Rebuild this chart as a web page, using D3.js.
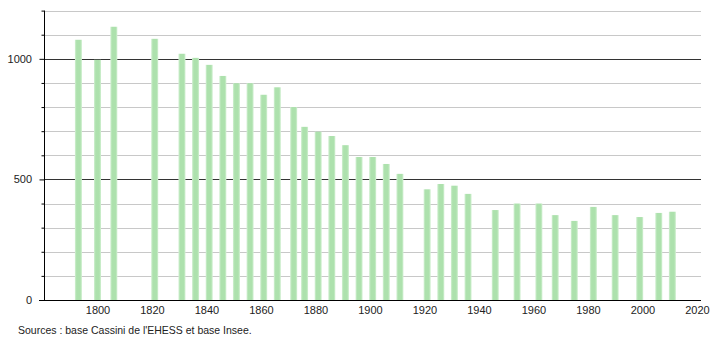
<!DOCTYPE html>
<html>
<head>
<meta charset="utf-8">
<script src="https://cdn.jsdelivr.net/npm/d3@7"></script>
<style>
  body { margin: 0; background: #fff; }
  svg text { font-family: "Liberation Sans", Arial, sans-serif; fill: #222; }
</style>
</head>
<body>
<div id="chart"></div>
<script>
const years = [1793, 1800, 1806, 1821, 1831, 1836, 1841, 1846, 1851, 1856, 1861, 1866,
    1872, 1876, 1881, 1886, 1891, 1896, 1901, 1906, 1911, 1921, 1926, 1931, 1936,
    1946, 1954, 1962, 1968, 1975, 1982, 1990, 1999, 2006, 2011];
const population = [1079, 996, 1133, 1083, 1021, 1004, 975, 929, 899, 899, 851, 882,
    800, 718, 698, 680, 642, 593, 593, 564, 523, 459, 481, 474, 440,
    373, 400, 400, 352, 328, 386, 352, 344, 361, 366];
const xTicks = [1800, 1820, 1840, 1860, 1880, 1900, 1920, 1940, 1960, 1980, 2000, 2020];
const yLabels = [0, 500, 1000];
const gridValues = d3.range(100, 1201, 100);
const sourceText = "Sources : base Cassini de l'EHESS et base Insee.";

function drawBars() {
    const W = 710, H = 340;
    const left = 44, right = 701, top = 10.6, bottom = 300;

    const svg = d3.select("#chart")
        .append("svg")
        .attr("width", W)
        .attr("height", H);

    const defs = svg.append("defs");
    const grad = defs.append("linearGradient")
        .attr("id", "barGrad")
        .attr("x1", "0%").attr("x2", "100%")
        .attr("y1", "0%").attr("y2", "0%");
    grad.append("stop").attr("offset", "0%").attr("stop-color", "#d2f0d2");
    grad.append("stop").attr("offset", "25%").attr("stop-color", "#ade1ad");
    grad.append("stop").attr("offset", "75%").attr("stop-color", "#ade1ad");
    grad.append("stop").attr("offset", "100%").attr("stop-color", "#d2f0d2");

    // 1780 sits just left of the y axis
    const x = d3.scaleLinear().domain([1780, 2021.5]).range([43, right]);
    const y = d3.scaleLinear().domain([0, 1200]).range([bottom, top]);

    // grid lines
    svg.append("g")
        .selectAll("line")
        .data(gridValues)
        .enter()
        .append("line")
        .attr("x1", left)
        .attr("x2", right)
        .attr("y1", d => Math.round(y(d)) + 0.5)
        .attr("y2", d => Math.round(y(d)) + 0.5)
        .attr("stroke", d => d % 500 === 0 ? "#333" : "#c8c8c8")
        .attr("stroke-width", 1);

    // bars
    const bw = 7;
    svg.append("g")
        .selectAll("rect")
        .data(years.map((yr, i) => ({year: yr, value: population[i]})))
        .enter()
        .append("rect")
        .attr("x", d => x(d.year) - bw / 2)
        .attr("y", d => y(d.value))
        .attr("width", bw)
        .attr("height", d => y(0) - y(d.value))
        .attr("fill", "url(#barGrad)");

    // y axis
    const yAxis = svg.append("g")
        .attr("transform", `translate(${left + 0.5},0)`)
        .call(d3.axisLeft(y)
            .tickValues(gridValues.concat([0]))
            .tickSize(3)
            .tickFormat(""));
    yAxis.select(".domain").attr("stroke", "#000").attr("d", `M0,${top}V${bottom}`);
    yAxis.selectAll(".tick line")
        .attr("stroke", "#000")
        .attr("x2", d => d % 500 === 0 ? -5 : -3);

    svg.append("g")
        .selectAll("text")
        .data(yLabels)
        .enter()
        .append("text")
        .attr("x", 32)
        .attr("y", d => y(d) + 4)
        .attr("text-anchor", "end")
        .style("font-size", "11px")
        .text(d => d);

    // x axis
    const xAxis = svg.append("g")
        .attr("transform", `translate(0,${bottom + 0.5})`)
        .call(d3.axisBottom(x).tickValues(xTicks).tickSize(0).tickPadding(6).tickFormat(d3.format("d")));
    xAxis.select(".domain").attr("stroke", "#000").attr("d", `M39,0H${right}`);
    xAxis.selectAll("text").style("font-size", "11px").attr("fill", "#222");

    svg.append("text")
        .attr("x", 18)
        .attr("y", 334)
        .style("font-size", "10.5px")
        .text(sourceText);
}

drawBars();
</script>
</body>
</html>
